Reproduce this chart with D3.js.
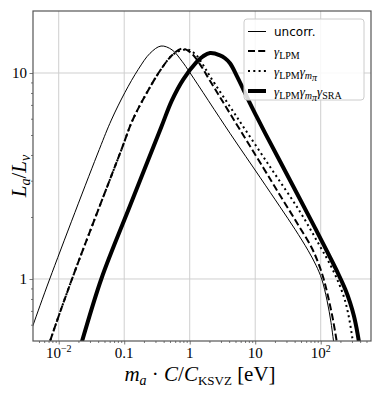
<!DOCTYPE html>
<html>
<head>
<meta charset="utf-8">
<script src="https://cdn.jsdelivr.net/npm/d3@7"></script>
<style>
  body { margin: 0; background: #fff; }
  svg { display: block; }
</style>
</head>
<body>
<svg id="chart"></svg>
<script>
// series: mass [eV] -> L_a/L_nu
const massUncorr = [0.0034, 0.00405, 0.00729, 0.0417, 0.0636, 0.1028, 0.1641, 0.2476, 0.3648, 0.5366, 0.7629, 1.011, 4.124, 11.84, 23.91, 40.52, 63.99, 84.78, 103.6, 124.8, 143.6, 159.6];
const lumUncorr  = [0.51, 0.596, 1.0, 4.26, 5.91, 8.06, 10.42, 12.46, 13.52, 12.96, 11.40, 10.02, 5.097, 3.117, 2.241, 1.743, 1.378, 1.166, 1.0, 0.788, 0.616, 0.477];

const massLPM = [0.00597, 0.00736, 0.01596, 0.0910, 0.1338, 0.2190, 0.3520, 0.5366, 0.7629, 1.047, 1.436, 2.041, 4.377, 13.15, 23.91, 41.97, 72.88, 90.95, 109.6, 129.3, 151.4, 175.5, 193.6];
const lumLPM  = [0.403, 0.498, 1.0, 4.26, 5.89, 7.97, 10.25, 12.19, 13.14, 12.53, 11.02, 9.166, 6.164, 3.485, 2.549, 1.906, 1.417, 1.205, 1.013, 0.824, 0.652, 0.498, 0.403];

const massLPMpi = [0.00597, 0.00736, 0.01596, 0.0910, 0.1338, 0.2190, 0.3520, 0.5366, 0.7111, 0.9419, 1.248, 1.596, 2.041, 5.220, 16.83, 48.31, 97.57, 138.7, 183.7, 226.9, 261.1, 295.3, 322.4, 339.9];
const lumLPMpi  = [0.403, 0.498, 1.0, 4.26, 5.89, 7.97, 10.25, 12.19, 12.82, 12.99, 12.26, 10.96, 9.638, 6.130, 3.505, 2.120, 1.441, 1.179, 0.9746, 0.8152, 0.6854, 0.5511, 0.4507, 0.3941];

const massSRA = [0.0187, 0.02268, 0.0447, 0.1226, 0.3684, 0.5309, 0.7984, 1.279, 1.596, 2.041, 2.901, 3.459, 4.124, 5.275, 6.580, 8.043, 10.28, 14.11, 23.91, 48.31, 81.85, 129.3, 183.7, 237.1, 280.1, 322.4, 364.7, 405.2, 427.1];
const lumSRA  = [0.403, 0.498, 1.0, 2.266, 5.468, 7.328, 9.321, 11.33, 12.05, 12.50, 12.19, 11.79, 11.15, 9.638, 8.333, 7.288, 6.233, 5.125, 3.727, 2.437, 1.772, 1.333, 1.066, 0.8913, 0.7706, 0.6593, 0.5450, 0.4406, 0.3855];

const xTicks = [0.01, 0.1, 1, 10, 100];
const yTicks = [1, 10];

const width = 382, height = 393;
const margin = {top: 11, right: 11, bottom: 52, left: 33};
const plotW = width - margin.left - margin.right;
const plotH = height - margin.top - margin.bottom;

const svg = d3.select("#chart").attr("width", width).attr("height", height);

const x = d3.scaleLog().domain([0.00405, 586]).range([0, plotW]);
const y = d3.scaleLog().domain([0.5, 20]).range([plotH, 0]);

const g = svg.append("g").attr("transform", `translate(${margin.left},${margin.top})`);

g.append("clipPath").attr("id", "clip")
  .append("rect").attr("width", plotW).attr("height", plotH);

// grid
g.append("g").selectAll("line").data(xTicks).join("line")
  .attr("x1", d => x(d)).attr("x2", d => x(d))
  .attr("y1", 0).attr("y2", plotH)
  .attr("stroke", "#cfcfcf").attr("stroke-width", 1);
g.append("g").selectAll("line").data(yTicks).join("line")
  .attr("y1", d => y(d)).attr("y2", d => y(d))
  .attr("x1", 0).attr("x2", plotW)
  .attr("stroke", "#cfcfcf").attr("stroke-width", 1);

// curves
const series = [
  {m: massUncorr, l: lumUncorr, w: 1, dash: null},
  {m: massLPM, l: lumLPM, w: 2, dash: "7,3.2"},
  {m: massLPMpi, l: lumLPMpi, w: 2, dash: "2,3.3"},
  {m: massSRA, l: lumSRA, w: 4, dash: null}
];
const line = d3.line()
  .x(d => x(d[0])).y(d => y(d[1]))
  .curve(d3.curveCatmullRom.alpha(0.5));

const curves = g.append("g").attr("clip-path", "url(#clip)");
series.forEach(s => {
  curves.append("path")
    .datum(d3.zip(s.m, s.l))
    .attr("d", line)
    .attr("fill", "none")
    .attr("stroke", "#000")
    .attr("stroke-width", s.w)
    .attr("stroke-dasharray", s.dash);
});

// axes
const minorX = [];
for (let e = -3; e <= 2; e++) for (let k = 2; k <= 9; k++) {
  const v = k * Math.pow(10, e);
  if (v > x.domain()[0] && v < x.domain()[1]) minorX.push(v);
}
const minorY = [0.6, 0.7, 0.8, 0.9, 2, 3, 4, 5, 6, 7, 8, 9];

const xAxis = g.append("g").attr("transform", `translate(0,${plotH})`)
  .call(d3.axisBottom(x).tickValues(xTicks).tickSize(3.5).tickFormat(""));
const xMinor = g.append("g").attr("transform", `translate(0,${plotH})`)
  .call(d3.axisBottom(x).tickValues(minorX).tickSize(2).tickFormat(""));
const yAxis = g.append("g")
  .call(d3.axisLeft(y).tickValues(yTicks).tickSize(3.5).tickFormat(""));
const yMinor = g.append("g")
  .call(d3.axisLeft(y).tickValues(minorY).tickSize(2).tickFormat(""));
[xAxis, xMinor, yAxis, yMinor].forEach(a => {
  a.select(".domain").remove();
  a.selectAll("line").attr("stroke", "#555").attr("stroke-width", 0.8);
});

g.append("rect").attr("width", plotW).attr("height", plotH)
  .attr("fill", "none").attr("stroke", "#555").attr("stroke-width", 1.2);

// tick labels
const serif = "'Liberation Serif', 'DejaVu Serif', serif";
const xLab = g.append("g").attr("font-family", serif).attr("font-size", 15)
  .attr("text-anchor", "middle");
xTicks.forEach(v => {
  const t = xLab.append("text").attr("x", x(v)).attr("y", plotH + 17);
  if (v === 0.01) {
    t.append("tspan").text("10");
    t.append("tspan").attr("dy", -6).attr("font-size", 10).text("\u22122");
  } else if (v === 100) {
    t.append("tspan").text("10");
    t.append("tspan").attr("dy", -6).attr("font-size", 10).text("2");
  } else {
    t.text(v);
  }
});
const yLab = g.append("g").attr("font-family", serif).attr("font-size", 15)
  .attr("text-anchor", "end");
yTicks.forEach(v => {
  yLab.append("text").attr("x", -6).attr("y", y(v) + 5).text(v);
});

// axis titles
const xt = svg.append("text")
  .attr("x", margin.left + plotW / 2 - 2).attr("y", 381)
  .attr("text-anchor", "middle").attr("font-family", serif).attr("font-size", 21);
xt.append("tspan").attr("font-style", "italic").text("m");
xt.append("tspan").attr("font-style", "italic").attr("font-size", 14).attr("dy", 4).text("a");
xt.append("tspan").attr("dy", -4).text(" \u00b7 ");
xt.append("tspan").attr("font-style", "italic").text("C");
xt.append("tspan").text("/");
xt.append("tspan").attr("font-style", "italic").text("C");
xt.append("tspan").attr("font-size", 13).attr("dy", 4).text("KSVZ");
xt.append("tspan").attr("dy", -4).text(" [eV]");

const yt = svg.append("text")
  .attr("transform", `translate(26,${margin.top + plotH / 2}) rotate(-90)`)
  .attr("text-anchor", "middle").attr("font-family", serif).attr("font-size", 21);
yt.append("tspan").attr("font-style", "italic").text("L");
yt.append("tspan").attr("font-style", "italic").attr("font-size", 14).attr("dy", 4).text("a");
yt.append("tspan").attr("dy", -4).text("/");
yt.append("tspan").attr("font-style", "italic").text("L");
yt.append("tspan").attr("font-style", "italic").attr("font-size", 14).attr("dy", 4).text("\u03bd");

// legend
const legend = svg.append("g").attr("transform", "translate(244,19)");
legend.append("rect").attr("width", 120).attr("height", 81).attr("rx", 3)
  .attr("fill", "#fff").attr("fill-opacity", 0.85)
  .attr("stroke", "#ccc").attr("stroke-width", 1);

const labels = [
  [{t: "uncorr.", sans: true}],
  [{t: "\u03b3", i: true}, {t: "LPM", sub: true}],
  [{t: "\u03b3", i: true}, {t: "LPM", sub: true}, {t: "\u03b3", i: true}, {t: "m", i: true, sub: true}, {t: "\u03c0", i: true, sub2: true}],
  [{t: "\u03b3", i: true}, {t: "LPM", sub: true}, {t: "\u03b3", i: true}, {t: "m", i: true, sub: true}, {t: "\u03c0", i: true, sub2: true}, {t: "\u03b3", i: true}, {t: "SRA", sub: true}]
];
const rowY = [12.5, 32, 52, 72];
series.forEach((s, i) => {
  legend.append("line")
    .attr("x1", 4).attr("x2", 22).attr("y1", rowY[i]).attr("y2", rowY[i])
    .attr("stroke", "#000").attr("stroke-width", s.w)
    .attr("stroke-dasharray", s.dash);
  const t = legend.append("text").attr("x", 30).attr("y", rowY[i] + 4.5)
    .attr("font-family", serif).attr("font-size", 13);
  let lvl = 0;
  labels[i].forEach(p => {
    const sp = t.append("tspan").text(p.t);
    if (p.sans) sp.attr("font-family", "'DejaVu Sans', sans-serif").attr("font-size", 12);
    if (p.i) sp.attr("font-style", "italic");
    let target = 0;
    if (p.sub) target = 3;
    if (p.sub2) target = 5;
    if (p.sub || p.sub2) sp.attr("font-size", 10);
    sp.attr("dy", target - lvl);
    lvl = target;
  });
});
</script>
</body>
</html>
